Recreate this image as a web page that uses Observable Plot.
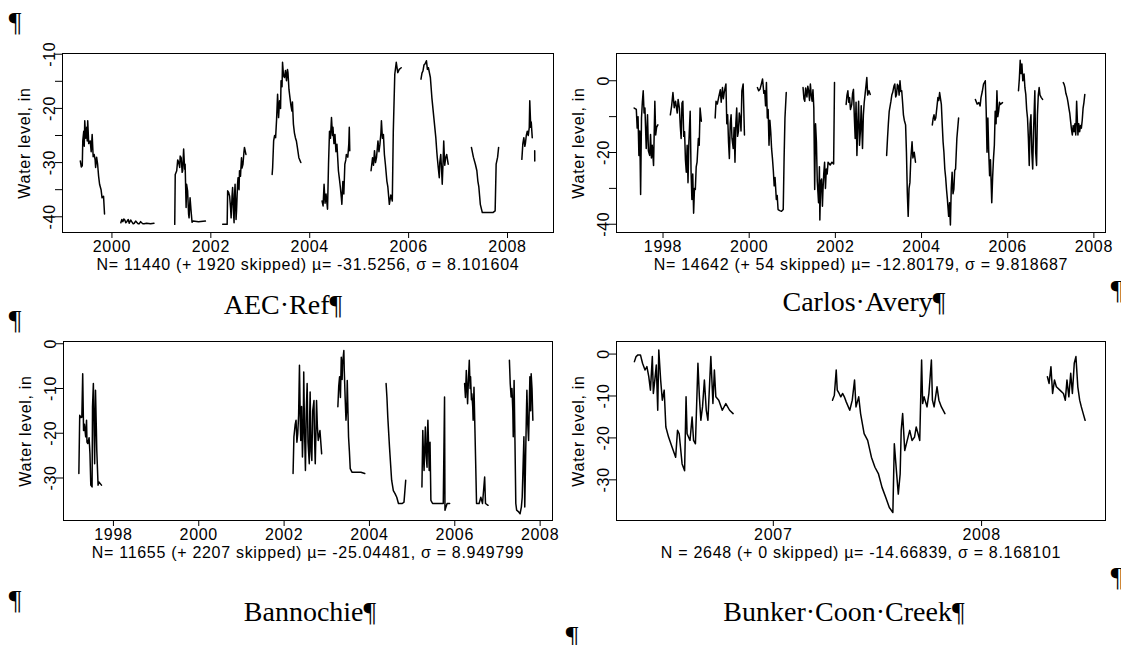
<!DOCTYPE html>
<html><head><meta charset="utf-8">
<script src="https://cdn.jsdelivr.net/npm/d3@7"></script>
<script src="https://cdn.jsdelivr.net/npm/@observablehq/plot@0.6"></script>
<style>
html,body{margin:0;padding:0;background:#fff;}
body{width:1121px;height:645px;position:relative;overflow:hidden;font-family:"Liberation Sans",Arial,sans-serif;}
.panel{position:absolute;}
.panel svg text{letter-spacing:0.7px;}
.title{position:absolute;font-family:"Liberation Serif","Times New Roman",serif;font-size:28px;line-height:28px;color:#000;white-space:nowrap;transform:translateX(-50%);}
.pil{position:absolute;font-family:"Liberation Serif","Times New Roman",serif;font-size:28px;line-height:28px;color:#000;transform:translateX(-50%);}
</style></head><body>
<script>
// ---- data ----
const siteNames = ["AEC\u00B7Ref\u00B6", "Carlos\u00B7Avery\u00B6", "Bannochie\u00B6", "Bunker\u00B7Coon\u00B7Creek\u00B6"];
const captions = [
  "N= 11440 (+ 1920 skipped) \u00B5= -31.5256, \u03C3 = 8.101604",
  "N= 14642 (+ 54 skipped) \u00B5= -12.80179, \u03C3 = 9.818687",
  "N= 11655 (+ 2207 skipped) \u00B5= -25.04481, \u03C3 = 8.949799",
  "N = 2648 (+ 0 skipped) \u00B5= -14.66839, \u03C3 = 8.168101"
];
const yAxisLabel = "Water level, in";

const xTicksAEC = [2000, 2002, 2004, 2006, 2008];
const xTicksLong = [1998, 2000, 2002, 2004, 2006, 2008];
const xTicksBunker = [2007, 2008];
const yTicksAEC = [-40, -35, -30, -25, -20, -15, -10];
const yLabelsAEC = [-40, -30, -20, -10];
const yTicksCarlos = [-40, -30, -20, -10, 0];
const yLabelsCarlos = [-40, -20, 0];
const yTicksTen = [-30, -20, -10, 0];

// [decimal year, water level in]; null = gap
const aecRef = [
[1999.36,-29.7],[1999.38,-30.8],[1999.40,-30.6],[1999.41,-26.0],[1999.43,-24.2],[1999.44,-27.0],[1999.45,-22.3],[1999.47,-25.5],[1999.49,-23.5],[1999.50,-26.0],[1999.51,-22.3],[1999.53,-26.5],[1999.56,-26.0],[1999.58,-28.0],[1999.60,-24.8],[1999.62,-28.9],[1999.64,-28.5],[1999.66,-29.5],[1999.67,-30.9],[1999.69,-29.0],[1999.71,-30.3],[1999.73,-32.5],[1999.75,-34.0],[1999.78,-35.0],[1999.80,-36.5],[1999.83,-36.2],[1999.85,-39.5],
null,
[2000.18,-41.1],[2000.20,-40.5],[2000.22,-40.9],[2000.24,-40.4],[2000.26,-40.6],[2000.28,-41.1],[2000.30,-40.9],[2000.33,-40.5],[2000.35,-41.2],[2000.38,-40.6],[2000.40,-40.9],[2000.43,-41.3],[2000.45,-41.2],[2000.48,-40.8],[2000.50,-41.0],[2000.53,-41.3],[2000.55,-41.3],[2000.58,-40.9],[2000.60,-41.1],[2000.63,-41.3],[2000.65,-41.3],[2000.70,-41.2],[2000.78,-41.3],[2000.85,-41.2],
null,
[2001.27,-41.4],[2001.28,-32.2],[2001.31,-31.5],[2001.33,-29.5],[2001.35,-30.0],[2001.37,-30.9],[2001.38,-28.8],[2001.40,-29.1],[2001.42,-31.8],[2001.43,-31.5],[2001.45,-27.5],[2001.47,-31.2],[2001.48,-30.3],[2001.50,-38.3],[2001.51,-34.0],[2001.53,-35.2],[2001.55,-39.5],[2001.56,-40.2],[2001.58,-36.5],[2001.60,-38.9],[2001.62,-41.0],[2001.64,-40.8],[2001.75,-40.9],[2001.89,-40.8],
null,
[2002.24,-41.4],[2002.33,-41.4],[2002.34,-35.2],[2002.36,-35.5],[2002.38,-36.2],[2002.40,-38.5],[2002.41,-40.2],[2002.43,-36.0],[2002.44,-34.6],[2002.46,-39.5],[2002.47,-41.1],[2002.48,-36.0],[2002.49,-34.0],[2002.51,-40.5],[2002.52,-38.9],[2002.54,-34.0],[2002.55,-32.8],[2002.57,-35.0],[2002.58,-31.5],[2002.60,-32.5],[2002.62,-29.1],[2002.63,-31.0],[2002.65,-30.3],[2002.67,-28.0],[2002.68,-27.2],[2002.71,-28.5],
null,
[2003.24,-32.2],[2003.25,-30.9],[2003.27,-26.0],[2003.29,-25.0],[2003.31,-25.4],[2003.33,-22.0],[2003.35,-17.4],[2003.37,-21.7],[2003.39,-18.6],[2003.41,-20.0],[2003.42,-14.9],[2003.44,-16.0],[2003.45,-11.5],[2003.47,-14.0],[2003.49,-14.3],[2003.51,-13.0],[2003.53,-14.9],[2003.55,-12.8],[2003.56,-13.4],[2003.58,-16.5],[2003.60,-18.0],[2003.62,-19.5],[2003.64,-20.5],[2003.65,-18.8],[2003.67,-22.9],[2003.69,-24.5],[2003.71,-25.4],[2003.73,-26.0],[2003.75,-27.2],[2003.78,-29.1],[2003.82,-30.0],
null,
[2004.25,-37.1],[2004.27,-38.0],[2004.29,-34.0],[2004.31,-37.5],[2004.33,-35.8],[2004.36,-38.6],[2004.38,-30.3],[2004.40,-24.2],[2004.42,-25.5],[2004.44,-21.7],[2004.46,-25.0],[2004.47,-23.5],[2004.49,-26.5],[2004.51,-24.8],[2004.53,-28.0],[2004.55,-26.6],[2004.58,-31.5],[2004.60,-33.0],[2004.62,-34.6],[2004.64,-36.5],[2004.65,-37.7],[2004.67,-33.5],[2004.69,-35.8],[2004.71,-30.3],[2004.73,-29.5],[2004.74,-28.5],[2004.77,-29.0],[2004.79,-26.6],[2004.80,-23.5],[2004.81,-27.8],
null,
[2005.24,-31.5],[2005.27,-29.1],[2005.29,-30.5],[2005.31,-27.8],[2005.33,-30.0],[2005.35,-29.1],[2005.38,-26.0],[2005.40,-28.0],[2005.42,-26.6],[2005.44,-24.5],[2005.45,-22.3],[2005.47,-25.5],[2005.49,-24.8],[2005.51,-28.5],[2005.53,-30.3],[2005.56,-33.4],[2005.58,-34.5],[2005.61,-37.7],[2005.64,-36.0],[2005.67,-37.1],[2005.69,-24.2],[2005.72,-13.7],[2005.75,-11.5],[2005.78,-13.4],[2005.81,-12.8],[2005.85,-12.5],
null,
[2006.25,-14.6],[2006.27,-13.5],[2006.29,-13.1],[2006.31,-12.0],[2006.33,-11.8],[2006.36,-11.2],[2006.38,-12.8],[2006.40,-12.5],[2006.44,-14.3],[2006.47,-18.0],[2006.51,-21.7],[2006.55,-25.4],[2006.57,-28.0],[2006.58,-29.1],[2006.60,-31.0],[2006.62,-32.8],[2006.63,-30.0],[2006.65,-28.5],[2006.67,-32.0],[2006.68,-34.0],[2006.70,-29.0],[2006.71,-26.0],[2006.73,-30.5],[2006.75,-29.1],[2006.77,-28.5],[2006.80,-30.3],
null,
[2007.27,-27.2],[2007.31,-29.0],[2007.35,-30.3],[2007.38,-31.5],[2007.40,-33.4],[2007.42,-34.5],[2007.45,-37.7],[2007.49,-39.2],[2007.71,-39.2],[2007.75,-38.9],[2007.77,-30.3],[2007.80,-29.0],[2007.82,-27.2],
null,
[2008.29,-29.4],[2008.31,-26.5],[2008.33,-25.4],[2008.35,-27.0],[2008.36,-26.6],[2008.38,-25.0],[2008.40,-24.2],[2008.42,-25.0],[2008.44,-23.5],[2008.45,-18.6],[2008.47,-23.5],[2008.48,-22.5],[2008.50,-25.4],
null,
[2008.55,-27.8],[2008.551,-29.7]
];

const carlosAvery = [
[1997.33,-7.6],[1997.38,-8.0],[1997.40,-13.2],[1997.42,-10.0],[1997.44,-20.8],[1997.46,-14.0],[1997.48,-31.7],[1997.50,-10.4],[1997.52,-6.0],[1997.54,-2.8],[1997.56,-9.0],[1997.58,-7.6],[1997.61,-18.9],[1997.64,-9.5],[1997.66,-19.5],[1997.69,-20.8],[1997.71,-15.0],[1997.73,-21.5],[1997.75,-18.0],[1997.78,-23.6],[1997.81,-5.7],[1997.83,-15.1],[1997.85,-13.0],[1997.88,-12.3],
null,
[1998.17,-9.5],[1998.20,-7.0],[1998.23,-3.3],[1998.26,-7.5],[1998.29,-5.7],[1998.33,-9.0],[1998.35,-5.2],[1998.38,-7.6],[1998.40,-12.5],[1998.42,-16.1],[1998.44,-6.2],[1998.46,-5.7],[1998.48,-15.5],[1998.50,-14.2],[1998.52,-22.0],[1998.54,-25.5],[1998.56,-18.0],[1998.58,-28.4],[1998.60,-17.0],[1998.63,-8.5],[1998.65,-25.0],[1998.67,-33.1],[1998.69,-26.0],[1998.71,-36.9],[1998.73,-30.0],[1998.75,-30.3],[1998.77,-24.0],[1998.79,-22.7],[1998.82,-16.1],[1998.84,-18.0],[1998.86,-7.6],[1998.89,-11.3],
null,
[1999.21,-10.4],[1999.23,-5.7],[1999.26,-6.5],[1999.29,-4.7],[1999.33,-2.5],[1999.35,-6.0],[1999.38,-1.9],[1999.40,-5.0],[1999.42,-3.3],[1999.44,-2.0],[1999.46,-0.9],[1999.48,-12.0],[1999.50,-9.5],[1999.52,-17.0],[1999.54,-21.7],[1999.56,-12.0],[1999.58,-9.5],[1999.60,-16.0],[1999.63,-18.9],[1999.65,-13.0],[1999.67,-22.7],[1999.69,-12.0],[1999.71,-7.6],[1999.73,-15.5],[1999.75,-14.2],[1999.77,-9.0],[1999.79,-10.4],[1999.81,-14.0],[1999.83,-2.8],[1999.86,-0.9],[1999.89,-15.1],
null,
[2000.19,-1.9],[2000.22,-2.8],[2000.25,-2.4],[2000.28,-1.0],[2000.31,0.5],[2000.34,-3.5],[2000.36,-2.8],[2000.38,-7.0],[2000.40,-0.5],[2000.42,-10.4],[2000.44,-8.0],[2000.46,-18.0],[2000.48,-11.0],[2000.50,-14.2],[2000.52,-19.0],[2000.54,-21.7],[2000.56,-25.0],[2000.58,-29.3],[2000.60,-27.0],[2000.63,-33.1],[2000.65,-32.0],[2000.67,-35.9],[2000.71,-36.2],[2000.75,-36.4],[2000.79,-35.9],[2000.81,-21.7],[2000.83,-10.4],[2000.86,-3.3],
null,
[2001.25,-1.9],[2001.27,-5.0],[2001.29,-5.7],[2001.31,-2.0],[2001.34,-4.5],[2001.36,-1.5],[2001.38,-2.8],[2001.40,-5.5],[2001.42,-0.9],[2001.44,-4.0],[2001.46,-5.7],[2001.48,-2.5],[2001.50,-7.6],[2001.52,-30.3],[2001.54,-12.0],[2001.56,-17.0],[2001.58,-28.0],[2001.61,-34.0],[2001.63,-24.0],[2001.64,-38.8],[2001.66,-28.0],[2001.68,-27.4],[2001.70,-35.0],[2001.71,-31.2],[2001.73,-26.0],[2001.75,-22.7],[2001.77,-30.0],[2001.79,-24.6],[2001.81,-26.0],[2001.83,-22.7],[2001.88,-23.5],[2001.92,-22.7],[2001.96,-23.2],[2001.98,-0.5],
null,
[2002.25,-6.6],[2002.27,-4.0],[2002.29,-2.8],[2002.31,-6.0],[2002.33,-4.7],[2002.35,-8.0],[2002.38,-6.6],[2002.40,-3.5],[2002.42,-2.4],[2002.44,-10.0],[2002.46,-16.1],[2002.48,-6.0],[2002.50,-20.8],[2002.52,-12.0],[2002.54,-5.7],[2002.56,-18.0],[2002.58,-14.2],[2002.60,-7.0],[2002.63,-18.9],[2002.65,-9.5],[2002.67,-6.0],[2002.69,-3.8],[2002.71,-1.5],[2002.73,0.9],[2002.75,-4.0],[2002.78,-2.8],[2002.81,-3.8],
null,
[2003.19,-20.8],[2003.21,-16.1],[2003.23,-12.0],[2003.25,-8.5],[2003.29,-5.7],[2003.31,-4.0],[2003.33,-3.3],[2003.36,-1.5],[2003.38,-0.9],[2003.40,-4.5],[2003.42,-3.8],[2003.44,-1.0],[2003.46,-1.4],[2003.48,-4.0],[2003.50,0.0],[2003.52,-3.0],[2003.54,-2.8],[2003.56,-6.0],[2003.58,-9.5],[2003.60,-11.0],[2003.63,-12.3],[2003.65,-20.0],[2003.67,-31.2],[2003.69,-37.8],[2003.71,-30.0],[2003.73,-28.4],[2003.75,-22.0],[2003.78,-17.0],[2003.80,-21.5],[2003.83,-19.9],[2003.86,-22.7],
null,
[2004.25,-12.3],[2004.27,-10.5],[2004.29,-9.5],[2004.31,-11.0],[2004.33,-10.4],[2004.36,-7.0],[2004.38,-4.7],[2004.40,-5.5],[2004.42,-3.3],[2004.44,-5.0],[2004.46,-6.6],[2004.48,-12.0],[2004.50,-17.0],[2004.52,-20.0],[2004.54,-24.6],[2004.56,-27.0],[2004.58,-30.3],[2004.60,-33.0],[2004.63,-37.8],[2004.65,-34.0],[2004.67,-40.2],[2004.69,-30.0],[2004.71,-25.5],[2004.73,-31.5],[2004.75,-30.3],[2004.77,-25.0],[2004.79,-24.6],[2004.82,-16.1],[2004.86,-10.4],
null,
[2005.25,-5.2],[2005.29,-6.5],[2005.33,-6.1],[2005.36,-7.0],[2005.38,-4.7],[2005.41,-3.0],[2005.44,-0.9],[2005.48,0.0],[2005.50,-8.0],[2005.52,-19.9],[2005.54,-10.4],[2005.56,-20.0],[2005.58,-26.5],[2005.60,-22.0],[2005.63,-34.0],[2005.65,-27.0],[2005.67,-21.7],[2005.69,-18.0],[2005.71,-8.5],[2005.73,-12.0],[2005.75,-2.8],[2005.77,-10.0],[2005.79,-8.5],[2005.81,-6.0],[2005.83,-6.6],[2005.88,-6.1],
null,
[2006.25,-2.8],[2006.27,0.5],[2006.29,5.7],[2006.31,2.0],[2006.33,4.7],[2006.35,0.0],[2006.38,1.9],[2006.40,-2.0],[2006.42,-3.8],[2006.44,-8.0],[2006.46,-10.4],[2006.48,-16.0],[2006.50,-23.6],[2006.52,-12.0],[2006.54,-9.5],[2006.56,-20.0],[2006.58,-24.6],[2006.60,-14.0],[2006.63,-2.8],[2006.65,-20.0],[2006.67,-23.6],[2006.69,-9.5],[2006.71,-4.0],[2006.73,-1.9],[2006.75,-4.0],[2006.78,-4.7],[2006.81,-5.2],
null,
[2007.29,-0.5],[2007.31,-1.0],[2007.33,-1.9],[2007.35,-3.5],[2007.38,-4.7],[2007.40,-6.0],[2007.42,-7.6],[2007.44,-9.0],[2007.46,-11.3],[2007.48,-13.5],[2007.50,-15.1],[2007.52,-12.5],[2007.54,-14.2],[2007.56,-12.0],[2007.58,-15.1],[2007.60,-5.7],[2007.63,-15.1],[2007.65,-12.0],[2007.67,-14.2],[2007.69,-12.5],[2007.71,-13.2],[2007.73,-11.0],[2007.75,-7.6],[2007.77,-6.0],[2007.79,-3.8]
];

const bannochie = [
[1997.19,-29.0],[1997.21,-16.0],[1997.24,-16.5],[1997.26,-16.4],[1997.28,-6.7],[1997.30,-19.4],[1997.32,-18.0],[1997.35,-20.8],[1997.37,-17.1],[1997.38,-22.0],[1997.40,-22.3],[1997.43,-21.0],[1997.45,-24.6],[1997.47,-31.6],[1997.50,-32.0],[1997.51,-14.1],[1997.53,-8.9],[1997.56,-26.8],[1997.58,-10.4],[1997.60,-19.0],[1997.61,-23.8],[1997.64,-31.6],[1997.66,-30.9],[1997.72,-31.6],
null,
[2002.21,-29.0],[2002.23,-20.8],[2002.26,-18.0],[2002.28,-17.1],[2002.30,-22.0],[2002.32,-20.1],[2002.34,-16.0],[2002.36,-4.8],[2002.38,-18.0],[2002.39,-21.6],[2002.41,-14.0],[2002.43,-25.3],[2002.45,-18.0],[2002.46,-6.3],[2002.48,-20.0],[2002.50,-28.3],[2002.52,-15.0],[2002.54,-8.9],[2002.56,-22.0],[2002.59,-26.8],[2002.60,-16.0],[2002.61,-10.8],[2002.63,-24.0],[2002.65,-26.1],[2002.67,-15.0],[2002.70,-12.7],[2002.71,-20.0],[2002.73,-26.8],[2002.75,-18.0],[2002.76,-12.7],[2002.78,-18.5],[2002.80,-21.6],[2002.84,-19.4],[2002.88,-24.6],
null,
[2003.26,-14.1],[2003.28,-9.5],[2003.30,-7.4],[2003.32,-12.0],[2003.34,-3.0],[2003.36,-8.0],[2003.37,-4.5],[2003.40,-1.5],[2003.41,-6.0],[2003.43,-11.9],[2003.45,-17.1],[2003.47,-14.1],[2003.48,-8.2],[2003.51,-20.8],[2003.53,-24.0],[2003.55,-27.9],[2003.59,-28.7],[2003.68,-28.7],[2003.80,-28.7],[2003.89,-29.0],
null,
[2004.39,-8.9],[2004.41,-12.0],[2004.43,-16.4],[2004.47,-23.1],[2004.52,-30.5],[2004.56,-32.8],[2004.60,-33.5],[2004.64,-34.3],[2004.68,-35.7],[2004.77,-35.7],[2004.81,-35.4],[2004.85,-30.5],
null,
[2005.23,-32.0],[2005.25,-19.4],[2005.27,-26.0],[2005.28,-28.3],[2005.30,-22.0],[2005.31,-18.6],[2005.33,-25.0],[2005.35,-27.6],[2005.36,-20.0],[2005.37,-17.1],[2005.39,-24.0],[2005.40,-28.3],[2005.42,-22.0],[2005.44,-35.0],[2005.48,-35.7],[2005.61,-35.7],[2005.73,-35.7],[2005.76,-11.9],[2005.77,-37.2],[2005.82,-35.7],[2005.88,-35.7],
null,
[2006.23,-8.9],[2006.25,-12.0],[2006.27,-6.0],[2006.30,-13.4],[2006.32,-8.0],[2006.34,-3.7],[2006.36,-10.0],[2006.37,-7.4],[2006.39,-12.5],[2006.40,-11.2],[2006.42,-14.0],[2006.43,-17.1],[2006.45,-9.7],[2006.49,-26.8],[2006.51,-35.7],[2006.57,-35.7],[2006.61,-34.3],[2006.65,-35.7],[2006.70,-29.8],[2006.72,-35.7],[2006.78,-36.1],
null,
[2007.28,-3.7],[2007.30,-9.0],[2007.32,-11.9],[2007.34,-10.0],[2007.36,-14.9],[2007.37,-20.8],[2007.39,-8.2],[2007.41,-21.6],[2007.43,-35.7],[2007.45,-37.2],[2007.49,-37.5],[2007.53,-38.0],[2007.56,-36.5],[2007.58,-34.3],[2007.62,-20.8],[2007.64,-36.5],[2007.66,-25.3],[2007.68,-15.0],[2007.69,-10.4],[2007.71,-18.0],[2007.73,-21.6],[2007.75,-12.0],[2007.76,-7.4],[2007.78,-15.0],[2007.79,-6.7],[2007.81,-10.0],[2007.83,-17.1]
];

const bunkerCoon = [
[2006.333,-1.8],[2006.341,-0.6],[2006.350,-0.2],[2006.362,-0.2],[2006.372,-2.2],[2006.384,-3.8],[2006.393,-3.0],[2006.402,-5.4],[2006.410,-8.6],[2006.419,-0.6],[2006.424,-9.4],[2006.431,-6.2],[2006.438,-2.6],[2006.445,-13.4],[2006.450,1.0],[2006.459,-6.2],[2006.467,-11.0],[2006.476,-8.6],[2006.484,-17.4],[2006.497,-19.8],[2006.514,-22.2],[2006.531,-24.6],[2006.540,-18.2],[2006.548,-19.0],[2006.562,-26.2],[2006.574,-27.8],[2006.581,-10.2],[2006.586,-19.0],[2006.600,-20.6],[2006.610,-15.0],[2006.617,-20.6],[2006.626,-21.4],[2006.638,-2.2],[2006.645,-10.2],[2006.652,-15.8],[2006.660,-12.6],[2006.669,-6.2],[2006.678,-13.4],[2006.686,-15.8],[2006.700,-0.6],[2006.710,-11.8],[2006.717,-3.8],[2006.724,-10.2],[2006.738,-11.0],[2006.755,-13.4],[2006.772,-11.8],[2006.790,-13.4],[2006.807,-14.2],
null,
[2007.284,-11.0],[2007.293,-9.8],[2007.302,-3.8],[2007.307,-8.6],[2007.316,-9.4],[2007.324,-10.2],[2007.333,-9.4],[2007.341,-10.2],[2007.350,-11.4],[2007.367,-13.4],[2007.379,-11.0],[2007.390,-6.2],[2007.397,-12.6],[2007.410,-10.2],[2007.419,-14.2],[2007.436,-19.0],[2007.453,-20.6],[2007.471,-24.6],[2007.488,-27.0],[2007.505,-28.6],[2007.522,-31.8],[2007.540,-34.2],[2007.557,-36.6],[2007.574,-37.8],[2007.581,-21.4],[2007.591,-27.8],[2007.600,-33.4],[2007.609,-28.6],[2007.614,-18.2],[2007.621,-14.2],[2007.631,-23.0],[2007.643,-20.6],[2007.655,-18.2],[2007.666,-20.6],[2007.678,-19.8],[2007.686,-17.4],[2007.695,-19.0],[2007.703,-20.6],[2007.712,-1.4],[2007.717,-11.8],[2007.724,-10.2],[2007.738,-12.6],[2007.747,-9.4],[2007.759,-1.4],[2007.764,-11.0],[2007.772,-12.6],[2007.786,-7.8],[2007.795,-11.0],[2007.807,-12.6],[2007.824,-14.2],
null,
[2008.316,-5.4],[2008.324,-7.0],[2008.333,-3.0],[2008.341,-9.4],[2008.350,-6.2],[2008.359,-7.8],[2008.376,-8.6],[2008.393,-9.4],[2008.402,-11.0],[2008.410,-6.2],[2008.419,-10.2],[2008.428,-4.6],[2008.436,-9.4],[2008.445,-2.2],[2008.453,-0.6],[2008.462,-7.8],[2008.471,-11.0],[2008.479,-12.6],[2008.488,-14.2],[2008.497,-15.8]
];

// ---- layout ----
const FONT = "Liberation Sans, Arial, sans-serif";
const FS = 16;
const panels = [
  {series: aecRef, xDomain: [1999.0, 2008.93], yDomain: [-42.9, -9.87], xTicks: xTicksAEC, yTicks: yTicksAEC, yLabels: yLabelsAEC, caption: captions[0], left: 0, top: 40, ml: 62, mr: 7},
  {series: carlosAvery, xDomain: [1996.92, 2008.27], yDomain: [-42.3, 7.6], xTicks: xTicksLong, yTicks: yTicksCarlos, yLabels: yLabelsCarlos, caption: captions[1], left: 553, top: 40, ml: 63, mr: 8},
  {series: bannochie, xDomain: [1996.83, 2008.29], yDomain: [-39.5, 0.5], xTicks: xTicksLong, yTicks: yTicksTen, yLabels: yTicksTen, caption: captions[2], left: 0, top: 328, ml: 63, mr: 8},
  {series: bunkerCoon, xDomain: [2006.247, 2008.595], yDomain: [-39.7, 3.0], xTicks: xTicksBunker, yTicks: yTicksTen, yLabels: yTicksTen, caption: captions[3], left: 553, top: 328, ml: 63, mr: 8}
];

for (const p of panels) {
  const rows = p.series.map(d => d ? {t: d[0], v: d[1]} : {t: NaN, v: NaN});
  const chart = Plot.plot({
    width: 560, height: 250,
    marginLeft: p.ml, marginRight: p.mr, marginTop: 13, marginBottom: 58,
    style: {fontFamily: FONT, fontSize: FS + "px", color: "#000", background: "transparent", overflow: "visible"},
    x: {domain: p.xDomain},
    y: {domain: p.yDomain},
    marks: [
      Plot.line(rows, {x: "t", y: "v", stroke: "#000", strokeWidth: 1.5}),
      Plot.frame({stroke: "#000", strokeWidth: 1}),
      Plot.axisX({ticks: p.xTicks, tickFormat: d => String(d), tickSize: 6, tickPadding: 2, fontSize: FS, label: null}),
      Plot.axisY({ticks: p.yTicks, tickFormat: d => p.yLabels.includes(d) ? String(d) : "", tickSize: 7, tickPadding: 1, tickRotate: -90, fontSize: FS, label: null}),
      Plot.text([yAxisLabel], {frameAnchor: "left", text: d => d, rotate: -90, textAnchor: "middle", dx: -38, fontSize: FS, fill: "#000"}),
      Plot.text([p.caption], {frameAnchor: "bottom", text: d => d, textAnchor: "middle", dy: 37, fontSize: FS, fill: "#000"})
    ]
  });
  const div = document.createElement("div");
  div.className = "panel";
  div.style.left = p.left + "px";
  div.style.top = p.top + "px";
  div.appendChild(chart);
  document.body.appendChild(div);
}

// titles and paragraph marks of the document page
const titlePos = [[283, 291], [864, 288], [310, 598], [844, 598]];
siteNames.forEach((name, i) => {
  const d = document.createElement("div");
  d.className = "title";
  d.textContent = name;
  d.style.left = titlePos[i][0] + "px";
  d.style.top = titlePos[i][1] + "px";
  document.body.appendChild(d);
});
const pilcrowPos = [[15, 8], [15, 306], [15, 586], [1117, 276], [1117, 563], [572, 622]];
pilcrowPos.forEach(([x, y]) => {
  const d = document.createElement("div");
  d.className = "pil";
  d.textContent = "\u00B6";
  d.style.left = x + "px";
  d.style.top = y + "px";
  document.body.appendChild(d);
});
</script>
</body></html>
